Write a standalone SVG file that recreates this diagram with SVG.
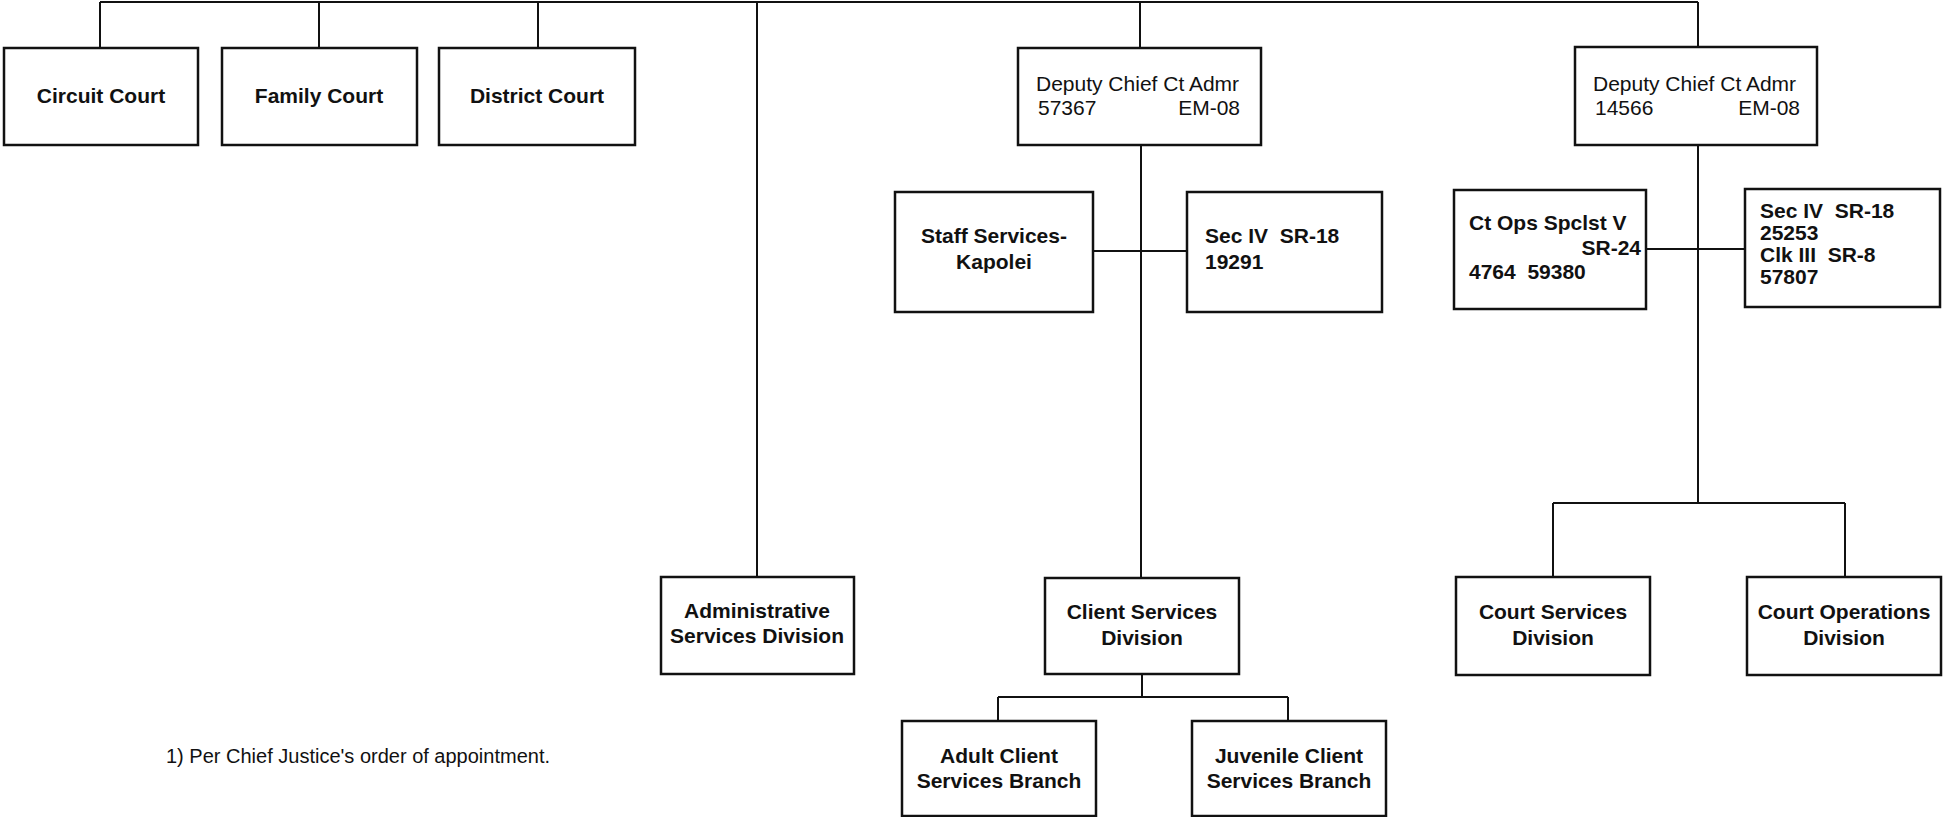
<svg xmlns="http://www.w3.org/2000/svg" width="1954" height="817" viewBox="0 0 1954 817">
<style>
.box{fill:#fff;stroke:#111;stroke-width:2.5}
.ln{fill:none;stroke:#111;stroke-width:2}
text{font-family:"Liberation Sans",Arial,sans-serif;fill:#111;white-space:pre}
.b{font-weight:bold;font-size:21px}
.r{font-size:21px}
.c{text-anchor:middle}
.e{text-anchor:end}
</style>
<rect width="1954" height="817" fill="#fff"/>
<g id="connectors">
<path class="ln" d="M100 2H1698M100 2V48M319 2V48M538 2V48M757 2V577M1140 2V48M1698 2V47"/>
<path class="ln" d="M1141 145V578M1093 251H1187"/>
<path class="ln" d="M1142 674V697M998 697H1288M998 697V721M1288 697V721"/>
<path class="ln" d="M1698 145V503M1646 249H1745M1553 503H1845M1553 503V577M1845 503V577"/>
</g>
<g id="circuit"><rect class="box" x="4" y="48" width="194" height="97"/><text class="b c" x="101" y="103">Circuit Court</text></g>
<g id="family"><rect class="box" x="222" y="48" width="195" height="97"/><text class="b c" x="319" y="103">Family Court</text></g>
<g id="district"><rect class="box" x="439" y="48" width="196" height="97"/><text class="b c" x="537" y="103">District Court</text></g>
<g id="deputy1"><rect class="box" x="1018" y="48" width="243" height="97"/><text class="r" x="1036" y="91">Deputy Chief Ct Admr</text><text class="r" x="1038" y="115">57367</text><text class="r e" x="1240" y="115">EM-08</text></g>
<g id="deputy2"><rect class="box" x="1575" y="47" width="242" height="98"/><text class="r" x="1593" y="91">Deputy Chief Ct Admr</text><text class="r" x="1595" y="115">14566</text><text class="r e" x="1800" y="115">EM-08</text></g>
<g id="staff"><rect class="box" x="895" y="192" width="198" height="120"/><text class="b c" x="994" y="243">Staff Services-</text><text class="b c" x="994" y="269">Kapolei</text></g>
<g id="sec1"><rect class="box" x="1187" y="192" width="195" height="120"/><text class="b" x="1205" y="243">Sec IV  SR-18</text><text class="b" x="1205" y="269">19291</text></g>
<g id="ctops"><rect class="box" x="1454" y="190" width="192" height="119"/><text class="b" x="1469" y="230">Ct Ops Spclst V</text><text class="b e" x="1641" y="255">SR-24</text><text class="b" x="1469" y="279">4764  59380</text></g>
<g id="sec2"><rect class="box" x="1745" y="189" width="195" height="118"/><text class="b" x="1760" y="218">Sec IV  SR-18</text><text class="b" x="1760" y="240">25253</text><text class="b" x="1760" y="262">Clk III  SR-8</text><text class="b" x="1760" y="284">57807</text></g>
<g id="admin"><rect class="box" x="661" y="577" width="193" height="97"/><text class="b c" x="757" y="618">Administrative</text><text class="b c" x="757" y="643">Services Division</text></g>
<g id="client"><rect class="box" x="1045" y="578" width="194" height="96"/><text class="b c" x="1142" y="619">Client Services</text><text class="b c" x="1142" y="645">Division</text></g>
<g id="adult"><rect class="box" x="902" y="721" width="194" height="95"/><text class="b c" x="999" y="763">Adult Client</text><text class="b c" x="999" y="788">Services Branch</text></g>
<g id="juvenile"><rect class="box" x="1192" y="721" width="194" height="95"/><text class="b c" x="1289" y="763">Juvenile Client</text><text class="b c" x="1289" y="788">Services Branch</text></g>
<g id="courtserv"><rect class="box" x="1456" y="577" width="194" height="98"/><text class="b c" x="1553" y="619">Court Services</text><text class="b c" x="1553" y="645">Division</text></g>
<g id="courtops"><rect class="box" x="1747" y="577" width="194" height="98"/><text class="b c" x="1844" y="619">Court Operations</text><text class="b c" x="1844" y="645">Division</text></g>
<g id="note"><text x="166" y="763" style="font-size:20px">1) Per Chief Justice's order of appointment.</text></g>
</svg>
